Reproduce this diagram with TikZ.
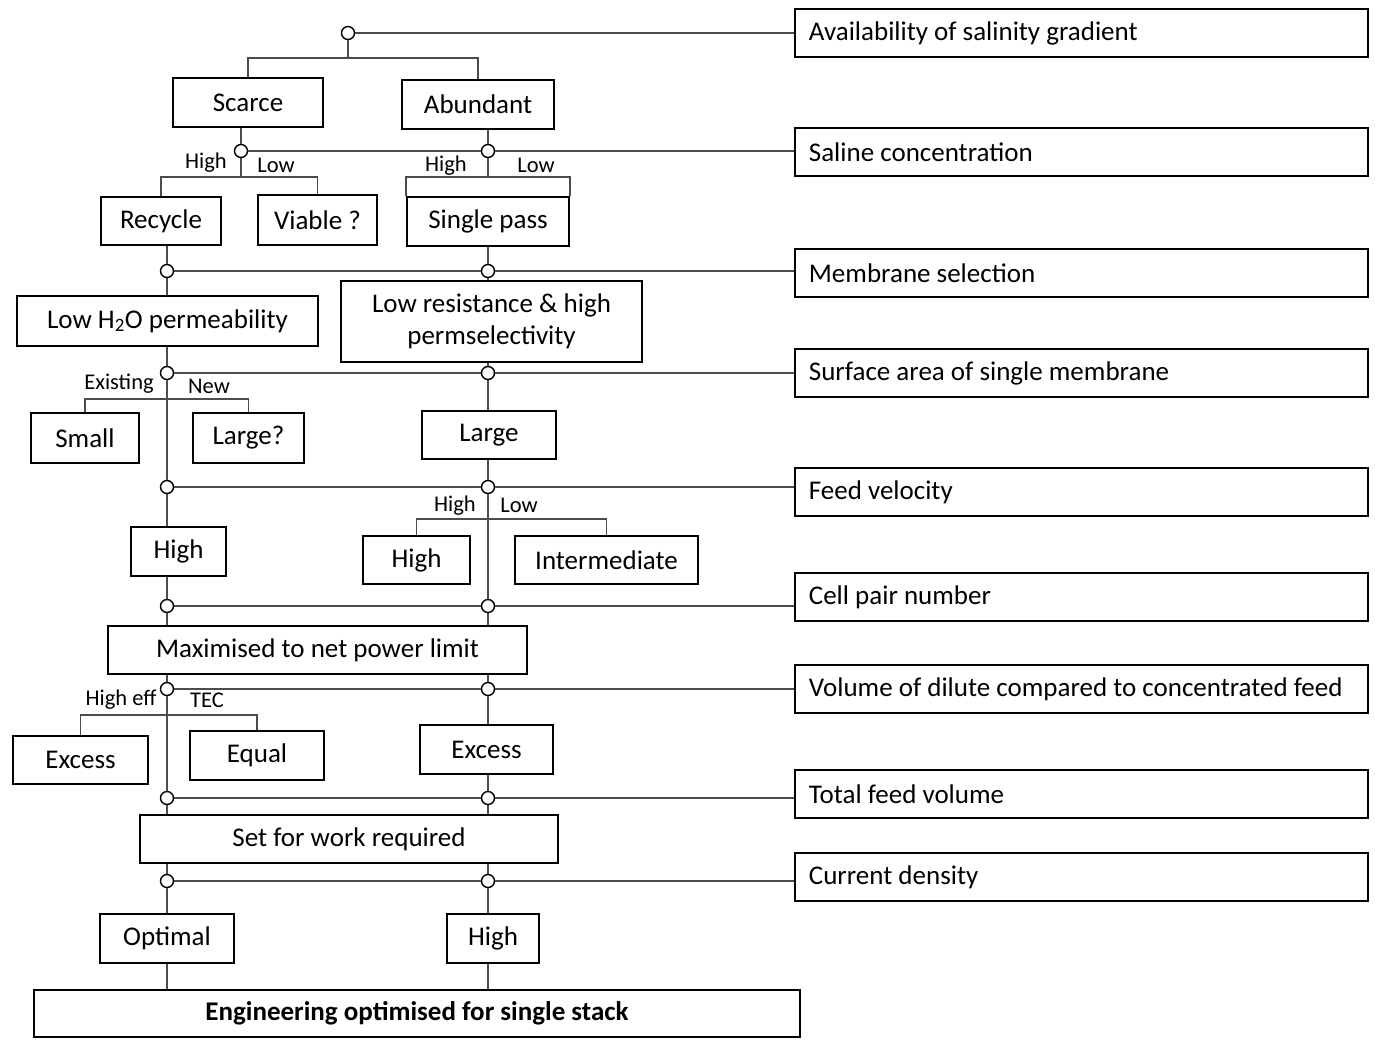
\documentclass[tikz,border=0pt]{standalone}
\usepackage{fontspec}
\setmainfont{Carlito}

\tikzset{
  box/.style={draw, line width=1.8pt, inner sep=0pt, align=center,
    font=\fontsize{27}{32}\selectfont},
  qbox/.style={box, anchor=west, minimum width=573pt, minimum height=48pt,
    text width=545pt, inner xsep=14pt, align=flush left},
  jn/.style={draw, circle, inner sep=0pt, minimum size=13pt, fill=white, line width=1.4pt},
  wire/.style={draw=black!70, line width=1.3pt},
  lbl/.style={inner sep=0pt, font=\fontsize{22.5}{26}\selectfont},
}

\begin{document}
\begin{tikzpicture}[x=1pt, y=-1pt]
  \useasboundingbox (0,0) rectangle (1375,1044);
  \def \xl {167}
  \def \xr {488}

  % question column
  \node[qbox] (q1) at (794,33) {Availability of salinity gradient};
  \node[qbox] (q2) at (794,152) {Saline concentration};
  \node[qbox] (q3) at (794,273) {Membrane selection};
  \node[qbox] (q4) at (794,373) {Surface area of single membrane};
  \node[qbox] (q5) at (794,492) {Feed velocity};
  \node[qbox] (q6) at (794,597) {Cell pair number};
  \node[qbox] (q7) at (794,689) {Volume of dilute compared to concentrated feed};
  \node[qbox] (q8) at (794,794) {Total feed volume};
  \node[qbox] (q9) at (794,877) {Current density};

  % answers
  \node[box, minimum width=150pt, minimum height=49pt] (sca) at (248,102.5) {Scarce};
  \node[box, minimum width=152pt, minimum height=49pt] (abu) at (478,104.5) {Abundant};
  \node[box, minimum width=120pt, minimum height=48pt] (rec) at (161,221) {Recycle};
  \node[box, minimum width=119pt, minimum height=50pt] (via) at (317.5,220) {Viable ?};
  \node[box, minimum width=162pt, minimum height=49pt] (sgl) at (488,221.5) {Single pass};
  \node[box, minimum width=301pt, minimum height=50pt] (loh) at (167.5,321) {Low H\textsubscript{2}O permeability};
  \node[box, minimum width=301pt, minimum height=81pt] (lrs) at (491.5,321.5) {Low resistance \& high\\permselectivity};
  \node[box, minimum width=108pt, minimum height=50pt] (sml) at (85,438) {Small};
  \node[box, minimum width=111pt, minimum height=50pt] (lgq) at (248.5,438) {Large?};
  \node[box, minimum width=134pt, minimum height=48pt] (lrg) at (489,435) {Large};
  \node[box, minimum width=95pt, minimum height=49pt] (hil) at (178.5,551.5) {High};
  \node[box, minimum width=107pt, minimum height=48pt] (him) at (416.5,560) {High};
  \node[box, minimum width=183pt, minimum height=48pt] (itm) at (606.5,560) {Intermediate};
  \node[box, minimum width=419pt, minimum height=48pt] (max) at (317.5,650) {Maximised to net power limit};
  \node[box, minimum width=135pt, minimum height=48pt] (exl) at (80.5,760) {Excess};
  \node[box, minimum width=134pt, minimum height=49pt] (equ) at (257,755.5) {Equal};
  \node[box, minimum width=133pt, minimum height=49pt] (exr) at (486.5,749.5) {Excess};
  \node[box, minimum width=418pt, minimum height=48pt] (set) at (349,839) {Set for work required};
  \node[box, minimum width=134pt, minimum height=49pt] (opt) at (167,938.5) {Optimal};
  \node[box, minimum width=92pt, minimum height=49pt] (hib) at (493,938.5) {High};
  \node[box, minimum width=766pt, minimum height=47pt, font=\fontsize{27}{32}\selectfont\bfseries] (eng) at (417,1013.5) {Engineering optimised for single stack};

  % junctions
  \node[jn] (c1) at (348,33) {};
  \node[jn] (c2l) at (241,151) {};   \node[jn] (c2r) at (\xr,151) {};
  \node[jn] (c3l) at (\xl,271) {};   \node[jn] (c3r) at (\xr,271) {};
  \node[jn] (c4l) at (\xl,373) {};   \node[jn] (c4r) at (\xr,373) {};
  \node[jn] (c5l) at (\xl,487) {};   \node[jn] (c5r) at (\xr,487) {};
  \node[jn] (c6l) at (\xl,606) {};   \node[jn] (c6r) at (\xr,606) {};
  \node[jn] (c7l) at (\xl,689) {};   \node[jn] (c7r) at (\xr,689) {};
  \node[jn] (c8l) at (\xl,798) {};   \node[jn] (c8r) at (\xr,798) {};
  \node[jn] (c9l) at (\xl,881) {};   \node[jn] (c9r) at (\xr,881) {};

  \coordinate (t1) at (348,58);
  \coordinate (t2l) at (241,177);
  \coordinate (t2r) at (\xr,177);
  \coordinate (t4) at (\xl,399);
  \coordinate (t5) at (\xr,519);
  \coordinate (t7) at (\xl,715);

  % rows to questions
  \draw[wire] (c1) -- (c1 -| q1.west);
  \draw[wire] (c2l) -- (c2r) -- (c2r -| q2.west);
  \draw[wire] (c3l) -- (c3r) -- (c3r -| q3.west);
  \draw[wire] (c4l) -- (c4r) -- (c4r -| q4.west);
  \draw[wire] (c5l) -- (c5r) -- (c5r -| q5.west);
  \draw[wire] (c6l) -- (c6r) -- (c6r -| q6.west);
  \draw[wire] (c7l) -- (c7r) -- (c7r -| q7.west);
  \draw[wire] (c8l) -- (c8r) -- (c8r -| q8.west);
  \draw[wire] (c9l) -- (c9r) -- (c9r -| q9.west);

  % availability
  \draw[wire] (c1) -- (t1);
  \draw[wire] (sca.north) |- (t1) -| (abu.north);

  % concentration
  \draw[wire] (c2l |- sca.south) -- (c2l) -- (t2l);
  \draw[wire] (rec.north) |- (t2l) -| (via.north);
  \draw[wire] (c2r |- abu.south) -- (c2r) -- (t2r);
  \draw[wire] (sgl.north west) |- (t2r) -| (sgl.north east);
  \node[lbl] (h2l) at (206,163) {High};
  \node[lbl] (l2l) at (276,165) {Low};
  \node[lbl] (h2r) at (446,166) {High};
  \node[lbl] (l2r) at (536,165) {Low};

  % membrane
  \draw[wire] (c3l |- rec.south) -- (c3l) -- (c3l |- loh.north);
  \draw[wire] (sgl.south) -- (c3r) -- (c3r |- lrs.north);

  % surface area
  \draw[wire] (c4l |- loh.south) -- (c4l) -- (t4) -- (c5l);
  \draw[wire] (sml.north) |- (t4) -| (lgq.north);
  \draw[wire] (c4r |- lrs.south) -- (c4r) -- (c4r |- lrg.north);
  \draw[wire] (c4r |- lrg.south) -- (c5r);
  \node[lbl] (exi) at (119,384) {Existing};
  \node[lbl] (new) at (209,386) {New};

  % feed velocity
  \draw[wire] (c5l) -- (c5l |- hil.north);
  \draw[wire] (c5l |- hil.south) -- (c6l);
  \draw[wire] (c5r) -- (t5) -- (c6r);
  \draw[wire] (him.north) |- (t5) -| (itm.north);
  \node[lbl] (h5) at (455,506) {High};
  \node[lbl] (l5) at (519,505) {Low};

  % cell pairs
  \draw[wire] (c6l) -- (c6l |- max.north);
  \draw[wire] (c6r) -- (c6r |- max.north);
  \draw[wire] (c7l |- max.south) -- (c7l);
  \draw[wire] (c7r |- max.south) -- (c7r);

  % dilute / concentrated
  \draw[wire] (c7l) -- (t7) -- (c8l);
  \draw[wire] (exl.north) |- (t7) -| (equ.north);
  \draw[wire] (c7r) -- (c7r |- exr.north);
  \draw[wire] (c7r |- exr.south) -- (c8r);
  \node[lbl] (hef) at (121,700) {High eff};
  \node[lbl] (tec) at (207,700) {TEC};

  % feed volume and current
  \draw[wire] (c8l) -- (c8l |- set.north);
  \draw[wire] (c8r) -- (c8r |- set.north);
  \draw[wire] (c9l |- set.south) -- (c9l) -- (c9l |- opt.north);
  \draw[wire] (c9r |- set.south) -- (c9r) -- (c9r |- hib.north);
  \draw[wire] (c9l |- opt.south) -- (c9l |- eng.north);
  \draw[wire] (c9r |- hib.south) -- (c9r |- eng.north);
\end{tikzpicture}
\end{document}
